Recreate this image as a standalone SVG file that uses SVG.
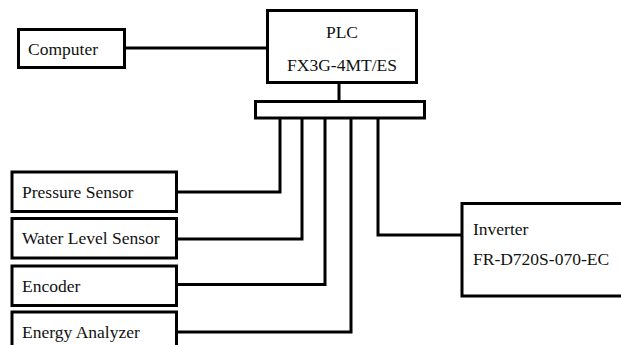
<svg xmlns="http://www.w3.org/2000/svg" width="621" height="345" viewBox="0 0 621 345">
<style>
.box{fill:#fff;stroke:#000;stroke-width:3}
.wire{fill:none;stroke:#000;stroke-width:3}
.t{font-family:'Liberation Serif','DejaVu Serif',serif;font-size:17.5px;fill:#111}
</style>
<rect width="621" height="345" fill="#fff"/>
<g id="connectors">
<line class="wire" x1="125" y1="48" x2="267" y2="48"/>
<line class="wire" x1="339" y1="83" x2="339" y2="101"/>
<polyline class="wire" points="177,192 280,192 280,118"/>
<polyline class="wire" points="177,239 302,239 302,118"/>
<polyline class="wire" points="177,284.5 325,284.5 325,118"/>
<polyline class="wire" points="177,332 351,332 351,118"/>
<polyline class="wire" points="462,235 378,235 378,118"/>
</g>
<g id="computer">
<rect class="box" x="18.5" y="29.5" width="106" height="38"/>
<text class="t" font-family="Liberation Serif, serif" x="28" y="54.5">Computer</text>
</g>
<g id="plc">
<rect class="box" x="267.5" y="10.5" width="149" height="72"/>
<text class="t" font-family="Liberation Serif, serif" x="342" y="37.5" text-anchor="middle">PLC</text>
<text class="t" font-family="Liberation Serif, serif" x="342" y="71" text-anchor="middle">FX3G-4MT/ES</text>
</g>
<g id="bus">
<rect class="box" x="255.5" y="101.5" width="169" height="16.5"/>
</g>
<g id="pressure-sensor">
<rect class="box" x="12" y="172" width="164.5" height="39.5"/>
<text class="t" font-family="Liberation Serif, serif" x="22" y="197.5">Pressure Sensor</text>
</g>
<g id="water-level-sensor">
<rect class="box" x="12" y="218.5" width="164.5" height="39.5"/>
<text class="t" font-family="Liberation Serif, serif" x="22" y="244">Water Level Sensor</text>
</g>
<g id="encoder">
<rect class="box" x="12" y="266" width="164.5" height="39.5"/>
<text class="t" font-family="Liberation Serif, serif" x="22" y="291.5">Encoder</text>
</g>
<g id="energy-analyzer">
<rect class="box" x="12" y="312" width="164.5" height="40"/>
<text class="t" font-family="Liberation Serif, serif" x="22" y="337.5">Energy Analyzer</text>
</g>
<g id="inverter">
<rect class="box" x="462" y="203.5" width="170" height="92.5"/>
<text class="t" font-family="Liberation Serif, serif" x="473" y="235">Inverter</text>
<text class="t" font-family="Liberation Serif, serif" x="473" y="265">FR-D720S-070-EC</text>
</g>
</svg>
